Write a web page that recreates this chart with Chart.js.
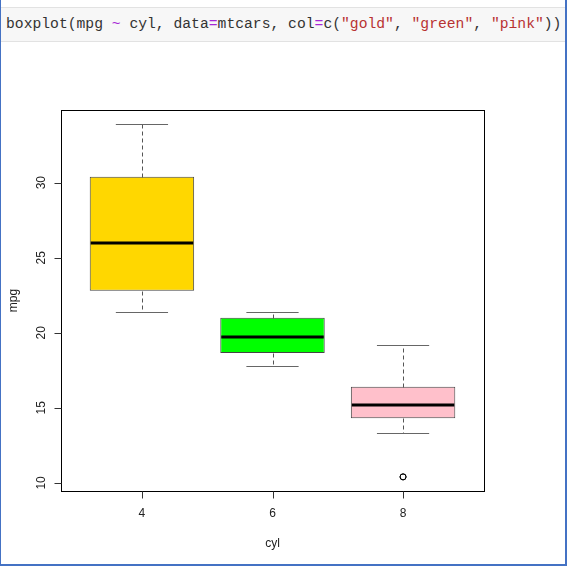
<!DOCTYPE html>
<html>
<head>
<meta charset="utf-8">
<script src="https://cdn.jsdelivr.net/npm/chart.js@4.4.1/dist/chart.umd.min.js"></script>
<style>
  html, body { margin: 0; padding: 0; background: #fff; }
  #frame {
    position: relative; width: 567px; height: 566px; box-sizing: border-box;
    border-left: 1px solid #4472c4; border-right: 2px solid #4472c4; border-bottom: 2px solid #4472c4;
    overflow: hidden;
  }
  #code {
    position: absolute; left: 0; top: 7px; width: 564px; height: 35px; box-sizing: border-box;
    background: #f7f7f7; border-top: 1px solid #e2e2e2; border-bottom: 1px solid #e2e2e2;
    font-family: "Liberation Mono", "DejaVu Sans Mono", monospace; font-size: 14.7px;
    color: #333; line-height: 33px; padding-left: 5px; white-space: pre;
  }
  #code .op { color: #a626d6; }
  #code .str { color: #b83232; }
  #chart { position: absolute; left: -1px; top: 0; }
</style>
</head>
<body>
<div id="frame">
  <div id="code">boxplot(mpg <span class="op">~</span> cyl, data<span class="op">=</span>mtcars, col<span class="op">=</span>c(<span class="str">"gold"</span>, <span class="str">"green"</span>, <span class="str">"pink"</span>))</div>
  <canvas id="chart" width="567" height="566"></canvas>
</div>
<script>
// mpg by number of cylinders (mtcars)
const categories = ['4', '6', '8'];
const whiskerLow = [21.4, 17.8, 13.3];
const boxLow = [22.8, 18.65, 14.3];
const medians = [26.0, 19.7, 15.2];
const boxHigh = [30.4, 21.0, 16.4];
const whiskerHigh = [33.9, 21.4, 19.2];
const outliers = [[], [], [10.4, 10.4]];
const boxColors = ['#ffd700', '#00ff00', '#ffc0cb'];
const yTicks = [10, 15, 20, 25, 30];
const xTitle = 'cyl';
const yTitle = 'mpg';

// box positions are 1..n on the x scale
const positions = categories.map((c, i) => i + 1);

const boxData = positions.map((x, i) => ({ x: x, y: [boxLow[i], boxHigh[i]] }));
const outlierData = [];
outliers.forEach((vals, i) => vals.forEach(v => outlierData.push({ x: positions[i], y: v })));

const font = '12px "Liberation Sans", Arial, sans-serif';

// draws whiskers, medians, frame and the R style axes from the chart scales
const boxplotExtras = {
    id: 'boxplotExtras',
    afterDatasetsDraw(chart) {
        const ctx = chart.ctx;
        const xs = chart.scales.x;
        const ys = chart.scales.y;
        const px = v => Math.round(v) + 0.5;
        ctx.save();

        positions.forEach((x, i) => {
            const cx = px(xs.getPixelForValue(x));
            const sL = xs.getPixelForValue(x - 0.2);
            const sR = xs.getPixelForValue(x + 0.2);
            const bL = xs.getPixelForValue(x - 0.4);
            const bR = xs.getPixelForValue(x + 0.4);

            // dashed whiskers
            ctx.strokeStyle = '#555';
            ctx.lineWidth = 1;
            ctx.setLineDash([4, 3]);
            ctx.beginPath();
            ctx.moveTo(cx, px(ys.getPixelForValue(boxHigh[i])));
            ctx.lineTo(cx, px(ys.getPixelForValue(whiskerHigh[i])));
            ctx.moveTo(cx, px(ys.getPixelForValue(boxLow[i])));
            ctx.lineTo(cx, px(ys.getPixelForValue(whiskerLow[i])));
            ctx.stroke();
            ctx.setLineDash([]);

            // staples
            ctx.strokeStyle = '#666';
            ctx.beginPath();
            [whiskerHigh[i], whiskerLow[i]].forEach(v => {
                const y = px(ys.getPixelForValue(v));
                ctx.moveTo(sL, y);
                ctx.lineTo(sR, y);
            });
            ctx.stroke();

            // median
            ctx.strokeStyle = '#000';
            ctx.lineWidth = 3;
            ctx.beginPath();
            const my = Math.round(ys.getPixelForValue(medians[i]));
            ctx.moveTo(bL + 1, my);
            ctx.lineTo(bR - 1, my);
            ctx.stroke();
        });

        // plot frame
        const a = chart.chartArea;
        ctx.strokeStyle = '#000';
        ctx.lineWidth = 1;
        ctx.strokeRect(px(a.left), px(a.top), Math.round(a.right - a.left), Math.round(a.bottom - a.top));

        // ticks
        ctx.strokeStyle = '#333';
        ctx.beginPath();
        yTicks.forEach(v => {
            const y = px(ys.getPixelForValue(v));
            ctx.moveTo(px(a.left), y);
            ctx.lineTo(px(a.left) - 7, y);
        });
        positions.forEach(x => {
            const xx = px(xs.getPixelForValue(x));
            ctx.moveTo(xx, px(a.bottom));
            ctx.lineTo(xx, px(a.bottom) + 7);
        });
        ctx.stroke();

        // tick labels
        ctx.fillStyle = '#222';
        ctx.font = font;
        ctx.textAlign = 'center';
        ctx.textBaseline = 'middle';
        positions.forEach((x, i) => {
            ctx.fillText(categories[i], xs.getPixelForValue(x), a.bottom + 23);
        });
        yTicks.forEach(v => {
            ctx.save();
            ctx.translate(a.left - 19, ys.getPixelForValue(v));
            ctx.rotate(-Math.PI / 2);
            ctx.fillText(String(v), 0, 0);
            ctx.restore();
        });

        // axis titles
        ctx.fillText(xTitle, (a.left + a.right) / 2, a.bottom + 53);
        ctx.save();
        ctx.translate(a.left - 47, (a.top + a.bottom) / 2);
        ctx.rotate(-Math.PI / 2);
        ctx.fillText(yTitle, 0, 0);
        ctx.restore();

        ctx.restore();
    }
};

new Chart(document.getElementById('chart'), {
    data: {
        datasets: [{
            type: 'bar',
            data: boxData,
            backgroundColor: boxColors,
            borderColor: '#444',
            borderWidth: 1,
            borderSkipped: false,
            categoryPercentage: 0.8,
            barPercentage: 1.0
        }, {
            type: 'scatter',
            data: outlierData,
            pointRadius: 3,
            pointBackgroundColor: 'rgba(0,0,0,0)',
            pointBorderColor: '#000',
            pointBorderWidth: 1
        }]
    },
    options: {
        responsive: false,
        animation: false,
        devicePixelRatio: 1,
        layout: { padding: { left: 61, top: 110, right: 83, bottom: 75 } },
        plugins: { legend: { display: false }, tooltip: { enabled: false } },
        scales: {
            x: {
                type: 'linear', min: 0.38, max: 3.62, offset: false, display: false,
                // one tick per box so the bar width is based on box spacing
                afterBuildTicks: scale => { scale.ticks = positions.map(v => ({ value: v })); }
            },
            y: { type: 'linear', min: 9.46, max: 34.84, display: false }
        }
    },
    plugins: [boxplotExtras]
});
</script>
</body>
</html>
